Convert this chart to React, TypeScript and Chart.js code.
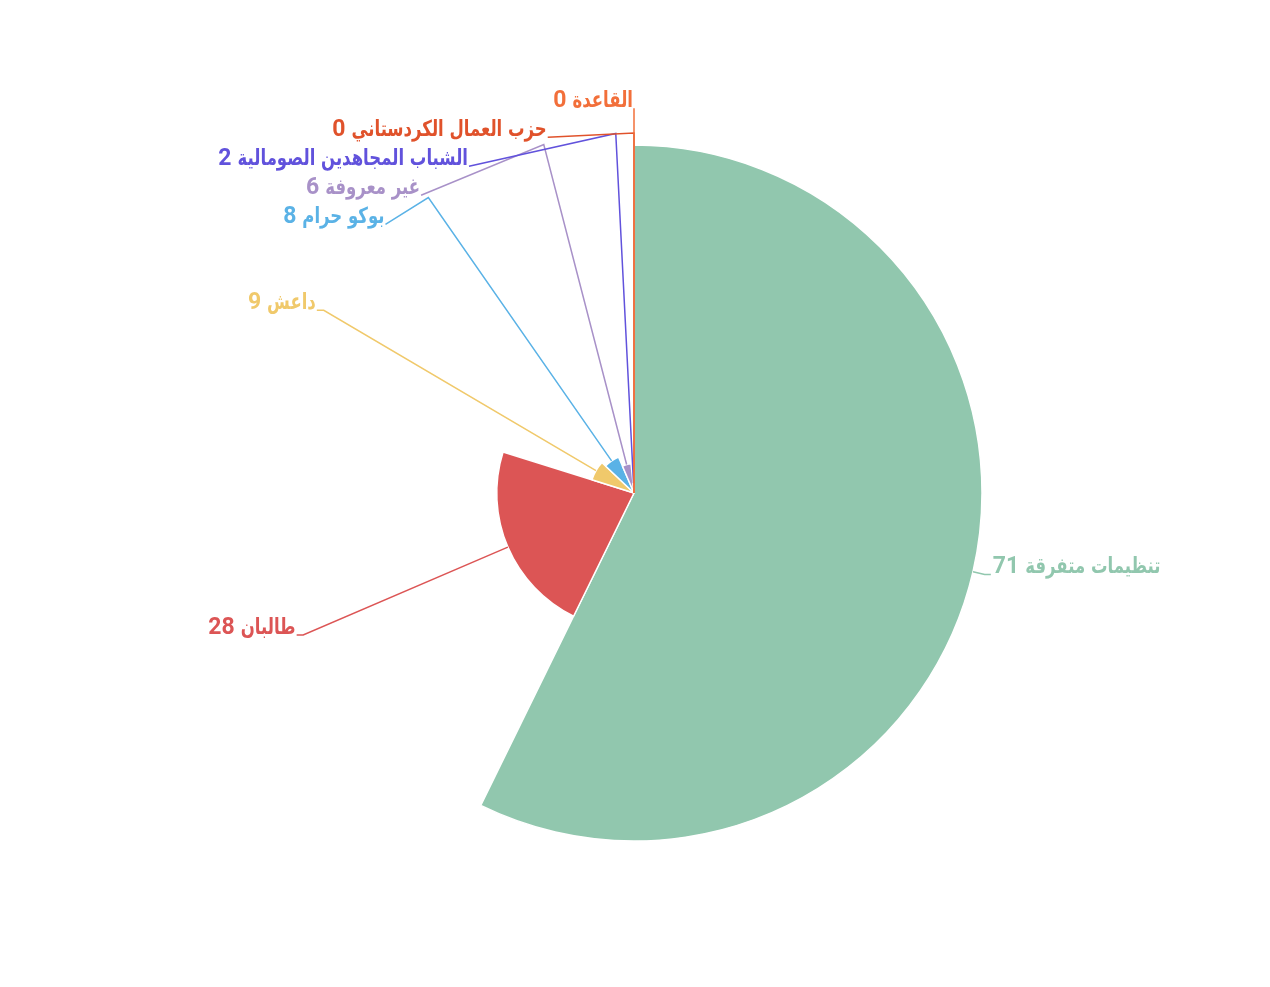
import React, { useEffect, useRef } from "react";
import { Chart, registerables } from "chart.js";

Chart.register(...registerables);

const categories = [
  "تنظيمات متفرقة",
  "طالبان",
  "داعش",
  "بوكو حرام",
  "غير معروفة",
  "الشباب المجاهدين الصومالية",
  "حزب العمال الكردستاني",
  "القاعدة",
];
const attackCounts = [71, 28, 9, 8, 6, 2, 0, 0];
const sliceColors = [
  "#91c7ae",
  "#dc5555",
  "#f0c96b",
  "#5ab2e6",
  "#a891c8",
  "#6152dc",
  "#e0522b",
  "#f26f3a",
];
const radiusMax = 71;

const total = attackCounts.reduce((a, b) => a + b, 0);

const ARABIC_FONT = "bold 22px 'DejaVu Sans', sans-serif";
const NUMBER_FONT = "bold 23px Roboto, 'DejaVu Sans', sans-serif";
const ARABIC_SCALE = 0.75;
const WORD_GAP = 6;

function drawLabel(
  ctx: CanvasRenderingContext2D,
  name: string,
  value: number,
  x: number,
  y: number,
  left: boolean
) {
  const num = String(value);
  ctx.textBaseline = "alphabetic";
  ctx.font = ARABIC_FONT;
  (ctx as any).direction = "rtl";
  const aw = ctx.measureText(name).width * ARABIC_SCALE;
  ctx.font = NUMBER_FONT;
  (ctx as any).direction = "ltr";
  const nw = ctx.measureText(num).width;
  const startX = left ? x - (aw + WORD_GAP + nw) : x;
  ctx.textAlign = "left";
  ctx.fillText(num, startX, y);
  ctx.save();
  ctx.font = ARABIC_FONT;
  (ctx as any).direction = "rtl";
  ctx.textAlign = "left";
  ctx.translate(startX + nw + WORD_GAP, y);
  ctx.scale(ARABIC_SCALE, 1);
  ctx.fillText(name, 0, 0);
  ctx.restore();
}

const labelPlugin = {
  id: "roseLabels",
  afterDatasetsDraw(chart: any) {
    const meta = chart.getDatasetMeta(0);
    const scale = chart.scales.r;
    const cx = scale.xCenter;
    const cy = scale.yCenter;
    const R = scale.drawingArea;
    const elbowR = R + 12;
    const endR = R + 18;
    const gap = 29;
    const items = meta.data.map((arc: any, i: number) => {
      const p = arc.getProps(["startAngle", "endAngle", "outerRadius"], true);
      const mid = (p.startAngle + p.endAngle) / 2;
      const dx = Math.cos(mid);
      const dy = Math.sin(mid);
      return {
        i,
        p0: { x: cx + p.outerRadius * dx, y: cy + p.outerRadius * dy },
        elbow: { x: cx + elbowR * dx, y: cy + elbowR * dy },
        left: dx < 1e-6,
        y: cy + elbowR * dy,
        shift: 0,
        x: 0,
      };
    });
    for (const side of [true, false]) {
      const list = items
        .filter((it: any) => it.left === side)
        .sort((a: any, b: any) =>
          Math.abs(a.y - b.y) < 0.5 ? b.i - a.i : a.y - b.y
        );
      const clusters: any[][] = [];
      let cur: any[] = [];
      list.forEach((it: any, k: number) => {
        if (k > 0 && it.y < list[k - 1].y + gap) {
          it.shift = list[k - 1].y + gap - it.y;
          it.y = list[k - 1].y + gap;
          cur.push(it);
        } else {
          if (cur.length) clusters.push(cur);
          cur = [it];
        }
      });
      if (cur.length) clusters.push(cur);
      clusters.forEach((cl) => {
        const S = cl.reduce((s: number, it: any) => s + it.shift, 0);
        if (S > 0) {
          cl.forEach((it: any) => {
            it.y -= S / (list.length + 1) - 2;
          });
        }
      });
    }
    const ctx = chart.ctx;
    ctx.save();
    items.forEach((it: any) => {
      const ddy = it.y - cy;
      const off = Math.sqrt(Math.max(0, endR * endR - ddy * ddy));
      it.x = it.left ? cx - off : cx + off;
      const color = sliceColors[it.i];
      ctx.strokeStyle = color;
      ctx.lineWidth = 1.5;
      ctx.beginPath();
      ctx.moveTo(it.p0.x, it.p0.y);
      ctx.lineTo(it.elbow.x, it.elbow.y);
      ctx.lineTo(it.x, it.y);
      ctx.stroke();
      ctx.fillStyle = color;
      drawLabel(
        ctx,
        categories[it.i],
        attackCounts[it.i],
        it.left ? it.x - 1 : it.x + 2,
        it.y - 1,
        it.left
      );
    });
    ctx.restore();
  },
};

export default function App() {
  const ref = useRef<HTMLCanvasElement | null>(null);
  useEffect(() => {
    if (!ref.current) return;
    const chart = new Chart(ref.current, {
      type: "polarArea",
      data: {
        labels: categories,
        datasets: [
          {
            data: attackCounts,
            backgroundColor: sliceColors,
            borderColor: "#ffffff",
            borderWidth: 1.5,
            angle: (c: any) =>
              Math.max((attackCounts[c.dataIndex] / total) * 360, 1e-6),
          } as any,
        ],
      },
      options: {
        responsive: false,
        animation: false,
        layout: { padding: { left: 126, right: 128, top: 137, bottom: 138 } },
        plugins: {
          legend: { display: false },
          tooltip: { enabled: false },
        },
        scales: {
          r: { display: false, min: 0, max: radiusMax },
        },
      } as any,
      plugins: [labelPlugin],
    });
    return () => chart.destroy();
  }, []);
  return (
    <div style={{ width: 1254, height: 971 }}>
      <canvas ref={ref} width={1254} height={971} style={{ display: "block" }} />
    </div>
  );
}
